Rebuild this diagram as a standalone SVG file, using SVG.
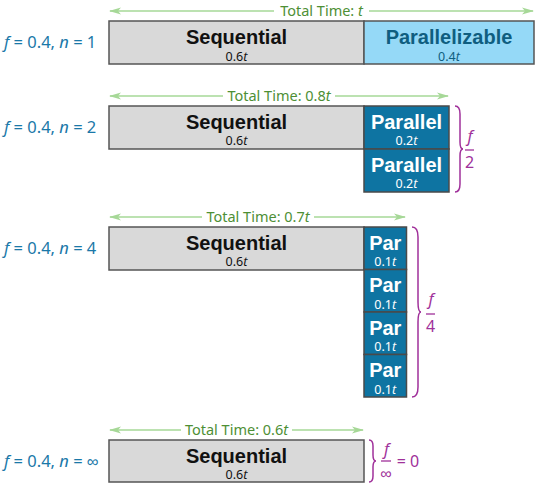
<svg xmlns="http://www.w3.org/2000/svg" width="540" height="488" viewBox="0 0 540 488">
<style>
.bg{fill:#ffffff}
.seq{fill:#D9D9D9;stroke:#555555;stroke-width:1.5}
.pz{fill:#95D9F7;stroke:#555555;stroke-width:1.5}
.par{fill:#0E74A2;stroke:#4a4a4a;stroke-width:1.5}
.main{font-family:"Liberation Sans",Arial,sans-serif;font-weight:bold;font-size:20px;text-anchor:middle}
.sub{font-family:"Noto Sans",sans-serif;font-size:12.5px;text-anchor:middle}
.dark{fill:#111111}
.pzt{fill:#0F5E80}
.wt{fill:#ffffff}
.lbl{font-family:"Noto Sans",sans-serif;font-size:16.5px;fill:#1A78A8}
.tt{font-family:"Noto Sans",sans-serif;font-size:14.5px;fill:#4E8F35;text-anchor:middle}
.al{stroke:#A6D897;stroke-width:1.5;fill:none;marker-start:url(#ah)}
.ar{stroke:#A6D897;stroke-width:1.5;fill:none;marker-end:url(#ah)}
.br{stroke:#A0309A;stroke-width:1.5;fill:none}
.fr{font-family:"Noto Sans",sans-serif;font-size:16px;fill:#A0309A;text-anchor:middle}
.bar{stroke:#A0309A;stroke-width:1.3}
.it{font-style:italic}
</style>
<defs>
<marker id="ah" viewBox="0 0 12 8" refX="11" refY="4" markerWidth="12" markerHeight="8" markerUnits="userSpaceOnUse" orient="auto-start-reverse">
<path d="M0,0.5 L12,4 L0,7.5 L3,4 Z" fill="#A6D897"/>
</marker>
</defs>
<rect class="bg" x="0" y="0" width="540" height="488"/>

<g id="connectors">
<line class="al" x1="110" y1="11" x2="274" y2="11"/>
<line class="ar" x1="369" y1="11" x2="533" y2="11"/>
<line class="al" x1="110" y1="96" x2="223" y2="96"/>
<line class="ar" x1="335" y1="96" x2="448" y2="96"/>
<line class="al" x1="110" y1="217" x2="202" y2="217"/>
<line class="ar" x1="314" y1="217" x2="405" y2="217"/>
<line class="al" x1="110" y1="430" x2="181" y2="430"/>
<line class="ar" x1="292" y1="430" x2="363" y2="430"/>
</g>

<g id="time-labels">
<text class="tt" x="321.5" y="16">Total Time: <tspan class="it">t</tspan></text>
<text class="tt" x="279" y="101">Total Time: 0.8<tspan class="it">t</tspan></text>
<text class="tt" x="258" y="222">Total Time: 0.7<tspan class="it">t</tspan></text>
<text class="tt" x="236.5" y="435">Total Time: 0.6<tspan class="it">t</tspan></text>
</g>

<g id="row-labels">
<text class="lbl" x="4" y="48"><tspan class="it">f</tspan> = 0.4, <tspan class="it">n</tspan> = 1</text>
<text class="lbl" x="4" y="133"><tspan class="it">f</tspan> = 0.4, <tspan class="it">n</tspan> = 2</text>
<text class="lbl" x="4" y="254"><tspan class="it">f</tspan> = 0.4, <tspan class="it">n</tspan> = 4</text>
<text class="lbl" x="4" y="467"><tspan class="it">f</tspan> = 0.4, <tspan class="it">n</tspan> = ∞</text>
</g>

<g id="row1-seq">
<rect class="seq" x="109" y="21" width="255" height="43"/>
<text class="main dark" x="236.5" y="44">Sequential</text>
<text class="sub dark" x="236.5" y="60.5">0.6<tspan class="it">t</tspan></text>
</g>
<g id="row1-par">
<rect class="pz" x="364" y="21" width="170" height="43"/>
<text class="main pzt" x="449" y="44">Parallelizable</text>
<text class="sub pzt" x="449" y="60.5">0.4<tspan class="it">t</tspan></text>
</g>

<g id="row2-seq">
<rect class="seq" x="109" y="106" width="255" height="43"/>
<text class="main dark" x="236.5" y="128.5">Sequential</text>
<text class="sub dark" x="236.5" y="145">0.6<tspan class="it">t</tspan></text>
</g>
<g id="row2-par1">
<rect class="par" x="364" y="106" width="85" height="43"/>
<text class="main wt" x="406.5" y="128.5">Parallel</text>
<text class="sub wt" x="406.5" y="145">0.2<tspan class="it">t</tspan></text>
</g>
<g id="row2-par2">
<rect class="par" x="364" y="149" width="85" height="43"/>
<text class="main wt" x="406.5" y="171.5">Parallel</text>
<text class="sub wt" x="406.5" y="188">0.2<tspan class="it">t</tspan></text>
</g>
<g id="row2-brace">
<path class="br" d="M455,106 C459,106 460,109 460,114 L460,142 C460,147 461,149 463,149 C461,149 460,151 460,156 L460,184 C460,189 459,192 455,192"/>
<text class="fr" x="470" y="142"><tspan class="it">f</tspan></text>
<line class="bar" x1="465" y1="150" x2="474" y2="150"/>
<text class="fr" x="469.5" y="168">2</text>
</g>

<g id="row3-seq">
<rect class="seq" x="109" y="227" width="255" height="43"/>
<text class="main dark" x="236.5" y="249.5">Sequential</text>
<text class="sub dark" x="236.5" y="266">0.6<tspan class="it">t</tspan></text>
</g>
<g id="row3-par1">
<rect class="par" x="364" y="227" width="42.5" height="42.5"/>
<text class="main wt" x="385.25" y="249.5">Par</text>
<text class="sub wt" x="385.25" y="266">0.1<tspan class="it">t</tspan></text>
</g>
<g id="row3-par2">
<rect class="par" x="364" y="269.5" width="42.5" height="42.5"/>
<text class="main wt" x="385.25" y="292">Par</text>
<text class="sub wt" x="385.25" y="308.5">0.1<tspan class="it">t</tspan></text>
</g>
<g id="row3-par3">
<rect class="par" x="364" y="312" width="42.5" height="42.5"/>
<text class="main wt" x="385.25" y="334.5">Par</text>
<text class="sub wt" x="385.25" y="351">0.1<tspan class="it">t</tspan></text>
</g>
<g id="row3-par4">
<rect class="par" x="364" y="354.5" width="42.5" height="42.5"/>
<text class="main wt" x="385.25" y="377">Par</text>
<text class="sub wt" x="385.25" y="393.5">0.1<tspan class="it">t</tspan></text>
</g>
<g id="row3-brace">
<path class="br" d="M412,227 C417,227 418,231 418,237 L418,302 C418,309 419,312 421,312 C419,312 418,315 418,322 L418,387 C418,393 417,397 412,397"/>
<text class="fr" x="431" y="305"><tspan class="it">f</tspan></text>
<line class="bar" x1="426" y1="314" x2="435" y2="314"/>
<text class="fr" x="430.5" y="332">4</text>
</g>

<g id="row4-seq">
<rect class="seq" x="109" y="440" width="255" height="42"/>
<text class="main dark" x="236.5" y="462.5">Sequential</text>
<text class="sub dark" x="236.5" y="479">0.6<tspan class="it">t</tspan></text>
</g>
<g id="row4-brace">
<path class="br" d="M369,440 C372,440 373,442 373,446 L373,455 C373,459 374,461 376,461 C374,461 373,463 373,467 L373,476 C373,480 372,482 369,482"/>
<text class="fr" x="386.5" y="455"><tspan class="it">f</tspan></text>
<line class="bar" x1="381" y1="461" x2="391" y2="461"/>
<text class="fr" x="386" y="479">∞</text>
<text class="fr" x="408" y="467">= 0</text>
</g>
</svg>
